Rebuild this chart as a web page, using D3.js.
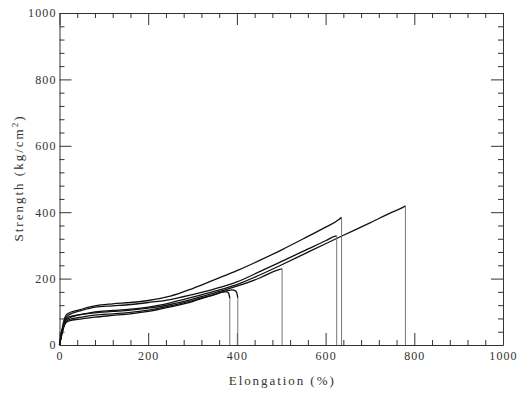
<!DOCTYPE html>
<html>
<head>
<meta charset="utf-8">
<script src="https://cdn.jsdelivr.net/npm/d3@7"></script>
<style>
  body { margin: 0; background: #fff; }
  svg { display: block; }
  .axis text { font-family: "Liberation Serif", "DejaVu Serif", serif; font-size: 12px; letter-spacing: 1.1px; fill: #333; }
  .axis path, .axis line { stroke: #333; }
  .title { font-family: "Liberation Serif", "DejaVu Serif", serif; font-size: 13px; fill: #333; }
</style>
</head>
<body>
<div class="chart"></div>
<script>
// tick values
let majorTicks = [0, 200, 400, 600, 800, 1000]
let minorTicks = d3.range(0, 1001, 40).filter(v => v % 200 !== 0)

// specimens: [elongation %, strength kg/cm2], last point is the break (drop to 0)
let specA = [[0,0],[5,42],[12,82],[18,94],[40,104],[80,118],[120,124],[160,128],[200,134],[250,147],[300,170],[350,197],[400,224],[450,254],[500,286],[550,320],[600,355],[630,378],[636,385],[636,0]]
let specB = [[0,0],[5,34],[12,68],[20,80],[50,92],[80,100],[120,104],[160,108],[200,114],[250,127],[300,144],[350,162],[400,182],[450,210],[500,241],[550,273],[600,305],[633,326],[700,368],[750,400],[772,413],[780,419],[780,0]]
let specC = [[0,0],[5,38],[12,76],[20,90],[50,104],[80,114],[120,118],[160,122],[200,128],[250,137],[300,152],[350,169],[400,190],[450,220],[500,251],[550,283],[600,314],[620,327],[625,329],[625,0]]
let specD = [[0,0],[5,36],[12,72],[20,84],[50,92],[80,97],[120,101],[160,105],[200,111],[250,122],[300,138],[350,157],[400,177],[450,201],[495,227],[502,229],[502,0]]
let specE = [[0,0],[5,30],[12,62],[20,72],[50,79],[80,84],[120,89],[160,94],[200,101],[250,115],[300,131],[340,148],[372,160],[378,160],[382,154],[384,140],[384,0]]
let specF = [[0,0],[5,32],[12,66],[20,76],[50,84],[80,90],[120,94],[160,98],[200,105],[250,118],[300,134],[350,152],[390,166],[396,164],[400,156],[402,142],[402,0]]
let specimens = [specA, specB, specC, specD, specE, specF]

let w = 518
let h = 396
let padL = 59.5, padR = 503, padT = 13, padB = 345

let svg = d3.select(".chart")
  .append("svg")
  .attr("width", w)
  .attr("height", h)

const xScale = d3.scaleLinear().domain([0, 1000]).range([padL, padR])
const yScale = d3.scaleLinear().domain([0, 1000]).range([padB, padT])

// minor ticks first, all four sides, pointing inward
let minorAxes = [
  [d3.axisBottom(xScale), "translate(0," + padB + ")"],
  [d3.axisTop(xScale), "translate(0," + padT + ")"],
  [d3.axisLeft(yScale), "translate(" + padL + ",0)"],
  [d3.axisRight(yScale), "translate(" + padR + ",0)"]
]
minorAxes.forEach(([ax, tr]) => {
  svg.append("g").attr("class", "axis").attr("transform", tr)
    .call(ax.tickValues(minorTicks).tickSizeInner(-5).tickSizeOuter(0).tickFormat(""))
    .call(g => g.select(".domain").remove())
})

// major ticks and frame
svg.append("g").attr("class", "axis").attr("transform", "translate(0," + padB + ")")
  .call(d3.axisBottom(xScale).tickValues(majorTicks).tickSizeInner(-12).tickSizeOuter(0).tickPadding(6).tickFormat(d3.format("d")))
svg.append("g").attr("class", "axis").attr("transform", "translate(0," + padT + ")")
  .call(d3.axisTop(xScale).tickValues(majorTicks).tickSizeInner(-12).tickSizeOuter(0).tickFormat(""))
svg.append("g").attr("class", "axis").attr("transform", "translate(" + padL + ",0)")
  .call(d3.axisLeft(yScale).tickValues(majorTicks).tickSizeInner(-12).tickSizeOuter(0).tickPadding(3).tickFormat(d3.format("d")))
svg.append("g").attr("class", "axis").attr("transform", "translate(" + padR + ",0)")
  .call(d3.axisRight(yScale).tickValues(majorTicks).tickSizeInner(-12).tickSizeOuter(0).tickFormat(""))

// curves
let line = d3.line().x(d => xScale(d[0])).y(d => yScale(d[1])).curve(d3.curveMonotoneX)

svg.selectAll(".spec")
  .data(specimens)
  .enter()
  .append("path")
  .attr("class", "spec")
  .attr("d", d => line(d.slice(0, -1)))
  .attr("fill", "none")
  .attr("stroke", "#111")
  .attr("stroke-width", 1.3)

// break drops
svg.selectAll(".drop")
  .data(specimens)
  .enter()
  .append("line")
  .attr("class", "drop")
  .attr("x1", d => xScale(d[d.length - 2][0]))
  .attr("y1", d => yScale(d[d.length - 2][1]))
  .attr("x2", d => xScale(d[d.length - 1][0]))
  .attr("y2", d => yScale(d[d.length - 1][1]))
  .attr("stroke", "#777")
  .attr("stroke-width", 1)

// titles
svg.append("text")
  .attr("class", "title")
  .attr("x", (padL + padR) / 2)
  .attr("y", 385)
  .attr("text-anchor", "middle")
  .attr("textLength", 105)
  .attr("lengthAdjust", "spacing")
  .text("Elongation (%)")

let yt = svg.append("text")
  .attr("class", "title")
  .attr("transform", "translate(22.5," + ((padT + padB) / 2) + ") rotate(-90)")
  .attr("text-anchor", "middle")
  .attr("textLength", 125)
  .attr("lengthAdjust", "spacing")
yt.append("tspan").text("Strength (kg/cm")
yt.append("tspan").attr("dy", -5).style("font-size", "9px").text("2")
yt.append("tspan").attr("dy", 5).text(")")
</script>
</body>
</html>
